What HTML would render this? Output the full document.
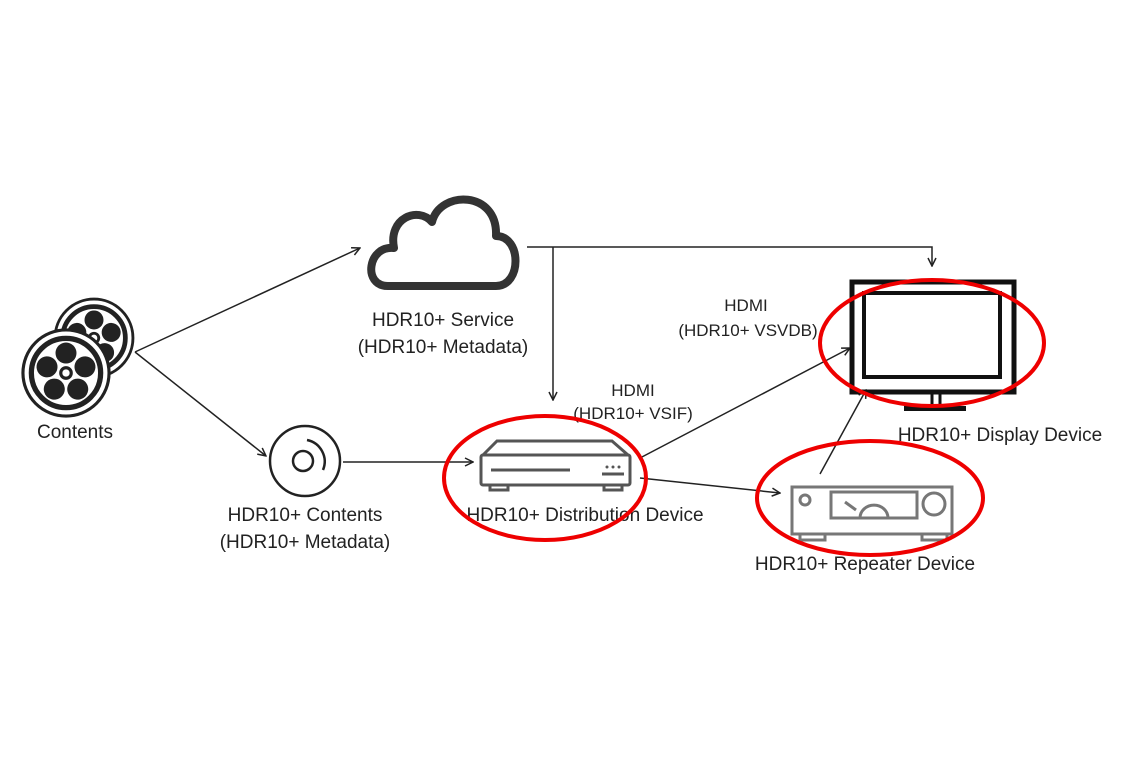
<!DOCTYPE html>
<html><head><meta charset="utf-8"><style>
html,body{margin:0;padding:0;background:#fff;}
svg{display:block;font-family:"Liberation Sans",sans-serif;}
</style></head><body>
<svg width="1146" height="764" viewBox="0 0 1146 764" xmlns="http://www.w3.org/2000/svg">
<defs>
<marker id="a" markerWidth="10" markerHeight="10" refX="9" refY="5" orient="auto" markerUnits="userSpaceOnUse">
<path d="M1,1 L9,5 L1,9" fill="none" stroke="#222" stroke-width="1.5"/></marker>
<g id="reel">
<circle r="41" fill="#fff" stroke="#222" stroke-width="3"/>
<circle r="33" fill="#fff" stroke="#222" stroke-width="5"/>
<g fill="#222">
<circle cx="0" cy="-19" r="10"/>
<circle cx="0" cy="-19" r="10" transform="rotate(72)"/>
<circle cx="0" cy="-19" r="10" transform="rotate(144)"/>
<circle cx="0" cy="-19" r="10" transform="rotate(216)"/>
<circle cx="0" cy="-19" r="10" transform="rotate(288)"/>
</g>
<circle r="5" fill="#fff" stroke="#222" stroke-width="3"/>
</g>
</defs>
<use href="#reel" transform="translate(94,338) scale(0.95)"/>
<use href="#reel" transform="translate(66,373) scale(1.05)"/>
<text x="75" y="438" font-size="19" text-anchor="middle" fill="#222">Contents</text>
<!-- cloud -->
<path d="M388,286 C362,286 368,245 394,248 C388,218 418,206 432,222 C440,190 498,190 496,236 C522,236 522,286 496,286 Z" fill="none" stroke="#333" stroke-width="8" stroke-linejoin="round"/>
<text x="443" y="326" font-size="19" text-anchor="middle" fill="#222">HDR10+ Service</text>
<text x="443" y="353" font-size="19" text-anchor="middle" fill="#222">(HDR10+ Metadata)</text>
<!-- disc -->
<circle cx="305" cy="461" r="35" fill="none" stroke="#222" stroke-width="2.5"/>
<circle cx="303" cy="461" r="10" fill="none" stroke="#222" stroke-width="2.5"/>
<path d="M307,440 A22,22 0 0 1 323,470" fill="none" stroke="#222" stroke-width="2.5"/>
<text x="305" y="521" font-size="19" text-anchor="middle" fill="#222">HDR10+ Contents</text>
<text x="305" y="548" font-size="19" text-anchor="middle" fill="#222">(HDR10+ Metadata)</text>
<g stroke="#222" stroke-width="1.5" fill="none">
<line x1="135" y1="352" x2="360" y2="248" marker-end="url(#a)"/>
<line x1="135" y1="352" x2="266" y2="456" marker-end="url(#a)"/>
<line x1="343" y1="462" x2="473" y2="462" marker-end="url(#a)"/>
<polyline points="527,247 932,247 932,266" marker-end="url(#a)"/>
<line x1="553" y1="247" x2="553" y2="400" marker-end="url(#a)"/>
<line x1="640" y1="458" x2="850" y2="348" marker-end="url(#a)"/>
<line x1="640" y1="478" x2="780" y2="493" marker-end="url(#a)"/>
<line x1="820" y1="474" x2="866" y2="390" marker-end="url(#a)"/>
</g>
<g stroke="#555" stroke-width="3" fill="none">
<path d="M483,455 L497,441 L612,441 L628,455"/>
<rect x="481" y="455" width="149" height="30" rx="2"/>
<rect x="490" y="485" width="18" height="5"/>
<rect x="604" y="485" width="18" height="5"/>
<line x1="491" y1="470" x2="570" y2="470"/>
<line x1="602" y1="474" x2="624" y2="474"/>
</g>
<g fill="#555"><circle cx="607" cy="467" r="1.5"/><circle cx="613" cy="467" r="1.5"/><circle cx="619" cy="467" r="1.5"/></g>
<text x="585" y="521" font-size="19" text-anchor="middle" fill="#222">HDR10+ Distribution Device</text>
<text x="633" y="396" font-size="17" text-anchor="middle" fill="#222">HDMI</text>
<text x="633" y="419" font-size="17" text-anchor="middle" fill="#222">(HDR10+ VSIF)</text>
<text x="746" y="311" font-size="17" text-anchor="middle" fill="#222">HDMI</text>
<text x="748" y="336" font-size="17" text-anchor="middle" fill="#222">(HDR10+ VSVDB)</text>
<g fill="none" stroke="#111">
<rect x="852" y="282" width="162" height="110" stroke-width="5"/>
<rect x="864" y="293" width="136" height="84" stroke-width="4"/>
<line x1="932" y1="392" x2="932" y2="407" stroke-width="3"/>
<line x1="940" y1="392" x2="940" y2="407" stroke-width="3"/>
</g>
<rect x="904" y="406" width="62" height="5" fill="#111"/>
<text x="1000" y="441" font-size="19" text-anchor="middle" fill="#222">HDR10+ Display Device</text>
<g fill="none" stroke="#777" stroke-width="3">
<rect x="792" y="487" width="160" height="47"/>
<rect x="800" y="534" width="25" height="6"/>
<rect x="922" y="534" width="25" height="6"/>
<circle cx="805" cy="500" r="5"/>
<circle cx="934" cy="504" r="11"/>
<rect x="831" y="492" width="86" height="26"/>
<path d="M860,518 A13,12 0 0 1 888,518"/>
<line x1="845" y1="502" x2="856" y2="510"/>
</g>
<text x="865" y="570" font-size="19" text-anchor="middle" fill="#222">HDR10+ Repeater Device</text>
<g fill="none" stroke="#e00" stroke-width="4">
<ellipse cx="545" cy="478" rx="101" ry="62"/>
<ellipse cx="932" cy="343" rx="112" ry="63"/>
<ellipse cx="870" cy="498" rx="113" ry="57"/>
</g>
</svg>
</body></html>
